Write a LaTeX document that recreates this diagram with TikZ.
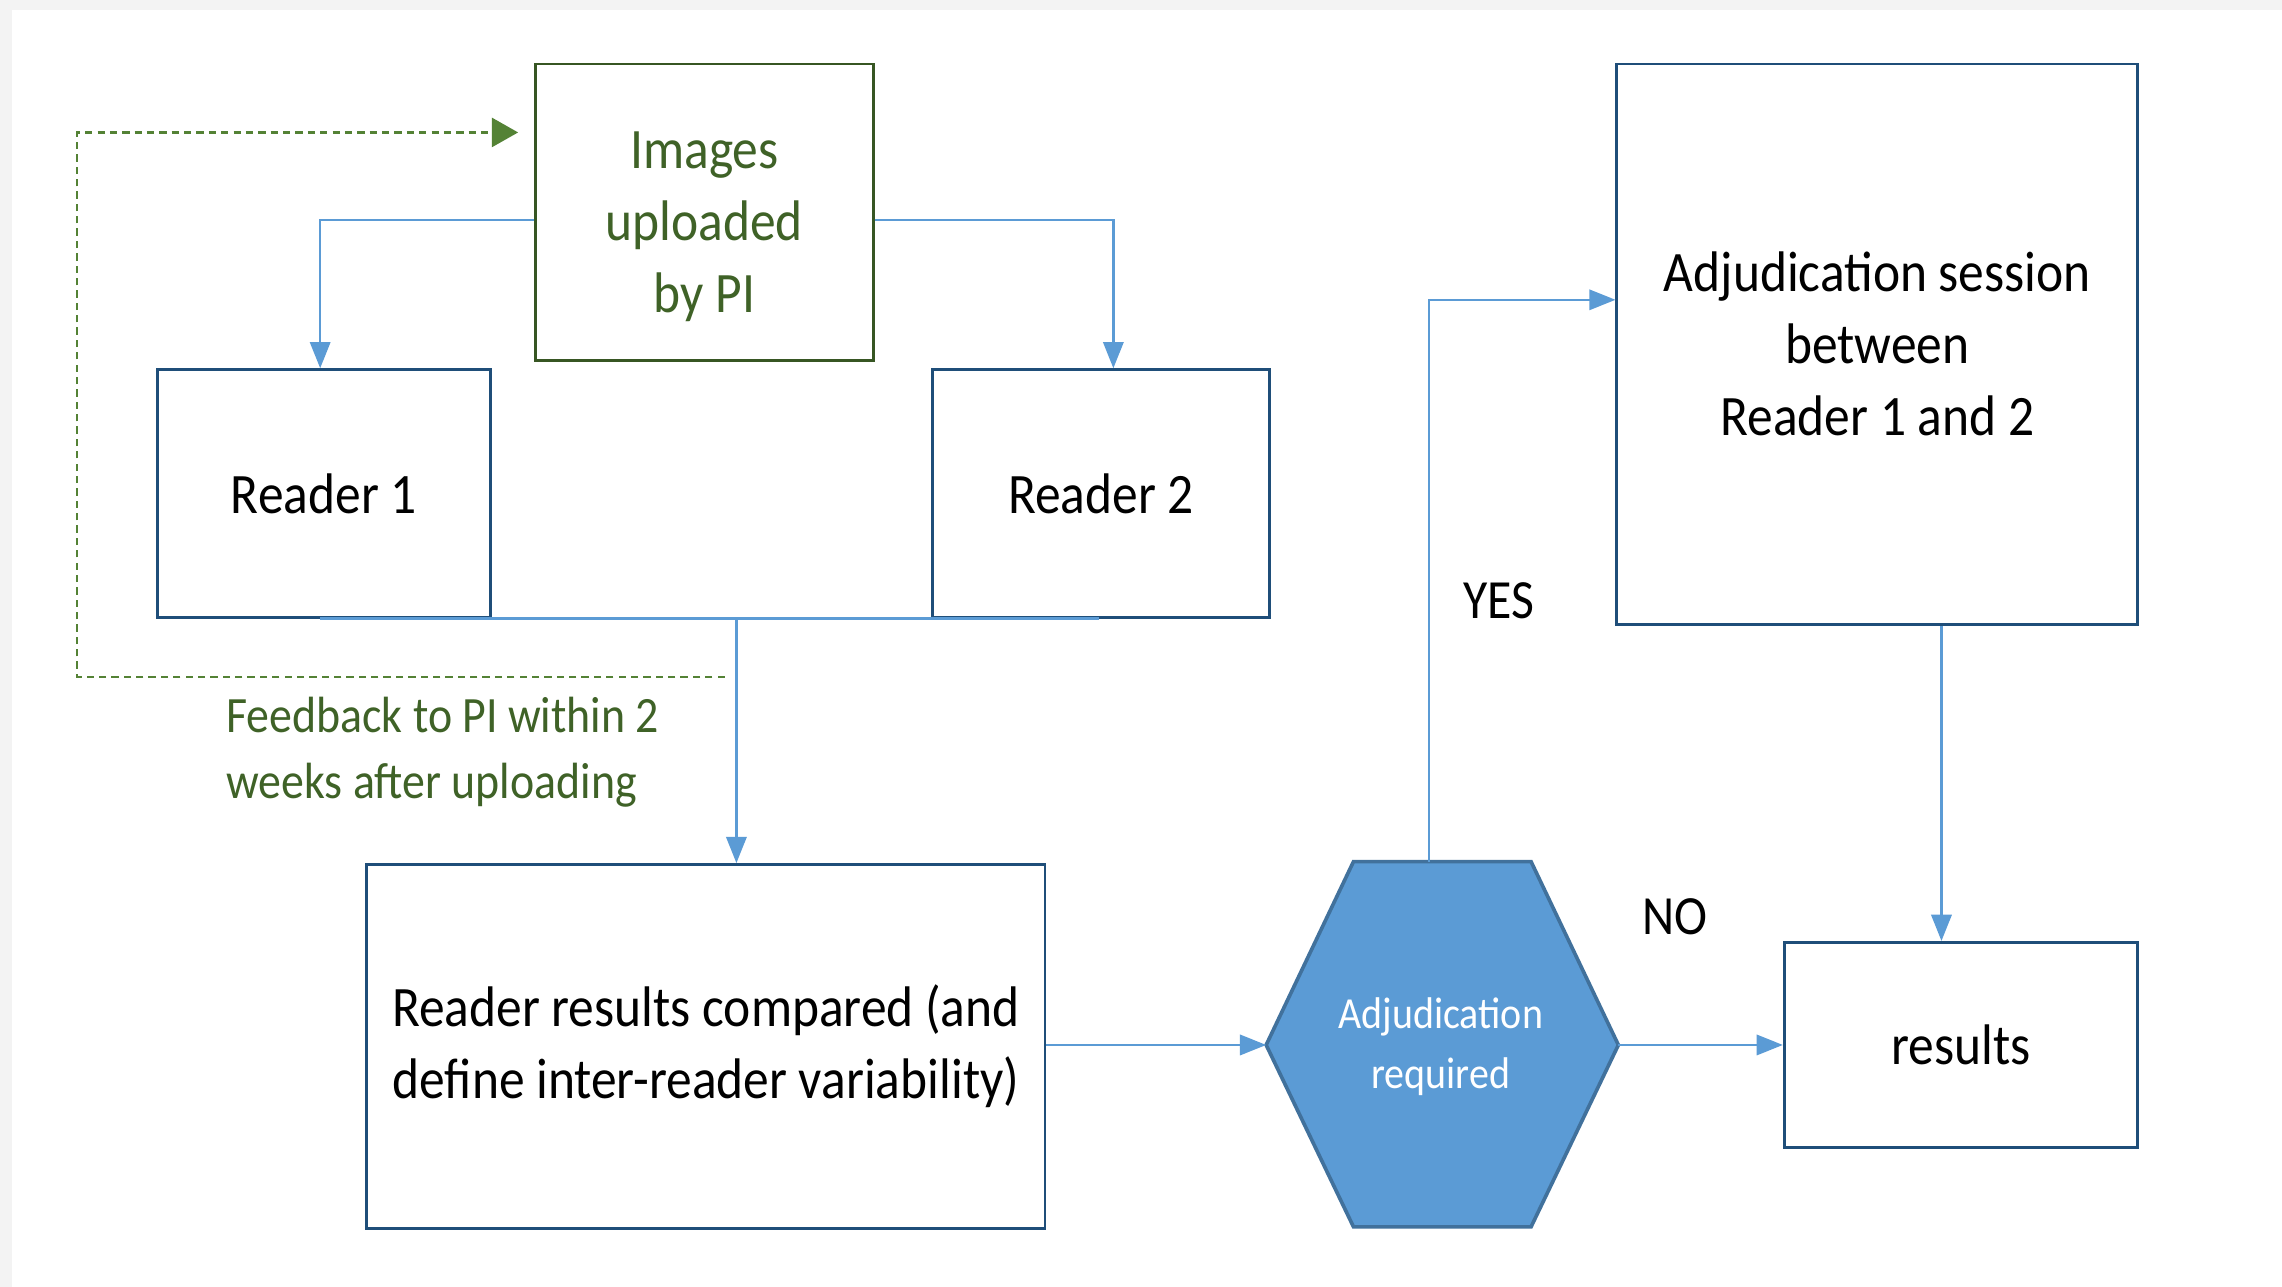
\documentclass[tikz,border=0pt]{standalone}
\usepackage{fontspec}
\setmainfont{Carlito}[FakeStretch=0.9]
\usetikzlibrary{arrows.meta}
\definecolor{lineblue}{HTML}{5B9BD5}
\definecolor{boxblue}{HTML}{1F4E79}
\definecolor{boxgreen}{HTML}{375623}
\definecolor{txtgreen}{HTML}{3F6227}
\definecolor{dashgreen}{HTML}{548235}
\definecolor{hexedge}{HTML}{41719C}
\definecolor{bggray}{HTML}{F3F3F3}
\newcommand\fsMain{\fontsize{39.3}{49.5}\selectfont}
\newcommand\fsSmall{\fontsize{35}{45}\selectfont}
\newcommand\fsHex{\fontsize{30.5}{41}\selectfont}
\newcommand\fsLab{\fontsize{38}{45}\selectfont}
\begin{document}
\begin{tikzpicture}[x=1pt,y=-1pt,
  box/.style={draw=boxblue,line width=2pt,rectangle,align=center,inner sep=0pt,font=\fsMain,text=black},
  gbox/.style={draw=boxgreen,line width=2pt,rectangle,inner sep=0pt},
  link/.style={draw=lineblue,line width=1.6pt},
  conn/.style={link,-{Triangle[length=18pt,width=14pt]}},
  fback/.style={draw=dashgreen,line width=1.5pt,dash pattern=on 5pt off 3.5pt,-{Triangle[length=18pt,width=20pt]}},
  lab/.style={font=\fsLab,text=black}]
\fill[bggray] (0,0) rectangle (1568,884);
\fill[white] (8,7) rectangle (1568,884);
\useasboundingbox (0,0) rectangle (1568,884);

% boxes
\node[gbox,minimum width=232pt,minimum height=204pt] (img) at (484,146) {};
\node[font=\fsMain,text=txtgreen,align=center] (imgtxt) at ([yshift=-10pt]img.center) {Images\\uploaded\\by PI};
\node[box,minimum width=229pt,minimum height=170pt] (r1) at (222.5,339) {Reader 1};
\node[box,minimum width=231pt,minimum height=170pt] (r2) at (756.5,339) {Reader 2};
\node[box,minimum width=466pt,minimum height=250pt] (cmp) at (485,719) {Reader results compared (and\\define inter-reader variability)};
\node[box,minimum width=358pt,minimum height=385pt] (ses) at (1290,236.5) {Adjudication session\\between\\Reader 1 and 2};
\node[box,minimum width=243pt,minimum height=141pt] (res) at (1347.5,718) {results};

% hexagon decision
\filldraw[fill=lineblue,draw=hexedge,line width=2.5pt] (930,592) -- (1052,592) -- (1112,718) -- (1052,843) -- (930,843) -- (870,718) -- cycle;
\coordinate (hexL) at (870,718);
\coordinate (hexR) at (1112,718);
\coordinate (hexT) at (982,592);
\node[font=\fsHex,text=white,align=center] (hex) at (990,719) {Adjudication\\required};

% connectors
\draw[conn] ([yshift=-5pt]img.west) -| ([xshift=-2.5pt]r1.north);
\draw[conn] ([yshift=-5pt]img.east) -| ([xshift=8.5pt]r2.north);
\coordinate (join) at (506,424);
\draw[link] ([xshift=-2.5pt]r1.south) -- ([xshift=-1.5pt]r2.south);
\draw[conn] (join) -- (cmp.north -| join);
\draw[conn] ([yshift=1pt]cmp.east) -- (hexL);
\draw[conn] (hexR) -- (res.west);
\draw[conn] (hexT) |- ([yshift=30.5pt]ses.west);
\draw[conn] ([xshift=44pt]ses.south) -- ([xshift=-13.5pt]res.north);

% feedback loop
\coordinate (fbstart) at (498,465);
\coordinate (fbc1) at (53,465);
\coordinate (fbc2) at (53,91);
\draw[fback] (fbstart) -- (fbc1) -- (fbc2) -- ([xshift=-11pt,yshift=55pt]img.west);
\node[font=\fsSmall,text=txtgreen,align=left,anchor=west] (fb) at (152,517) {Feedback to PI within 2\\weeks after uploading};

% labels
\node[lab] (yes) at (1030,413) {YES};
\node[lab] (no) at (1151,630) {NO};
\end{tikzpicture}
\end{document}
